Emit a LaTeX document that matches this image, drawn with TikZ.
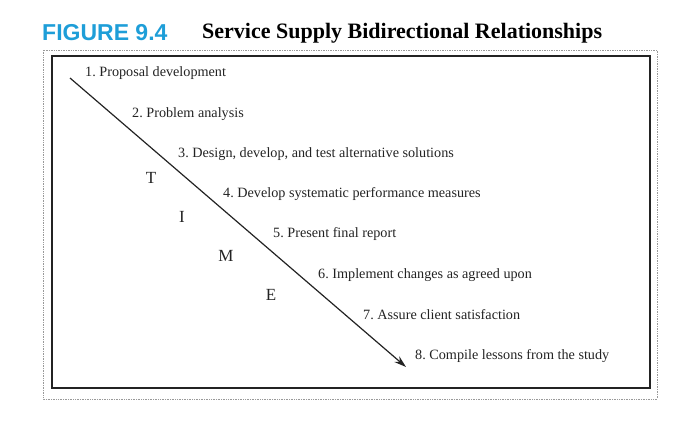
\documentclass[tikz,border=0pt]{standalone}
\usepackage{fontspec}
\setmainfont{Liberation Serif}
\newfontfamily\titlesans{Liberation Sans}
\usetikzlibrary{arrows.meta}
\frenchspacing
\definecolor{figcyan}{RGB}{30,158,216}
\definecolor{ink}{RGB}{35,35,35}
\tikzset{
  steplabel/.style={anchor=west, inner sep=0pt, text=ink, font=\fontsize{14.2}{16}\selectfont},
  timeletter/.style={inner sep=0pt, text=ink, font=\fontsize{17}{19}\selectfont},
  outerbox/.style={draw=gray!80, densely dotted, line width=0.7pt},
  innerbox/.style={draw=ink, line width=2pt},
  timearrow/.style={draw=ink, line width=1.2pt, -{Stealth[length=12pt,width=7.5pt]}}
}
\begin{document}
\begin{tikzpicture}[x=1pt,y=-1pt]
\useasboundingbox (0,0) rectangle (700,431);
% title
\node[anchor=west, inner sep=0pt, text=figcyan, font=\titlesans\bfseries\fontsize{23}{25}\selectfont] (fig) at (42,33) {FIGURE 9.4};
\node[anchor=west, inner sep=0pt, text=black, font=\bfseries\fontsize{22}{24}\selectfont] (title) at (202,33) {Service Supply Bidirectional Relationships};
% boxes
\draw[outerbox] (43,50) rectangle (657,399);
\draw[innerbox] (52,56) rectangle (650,388);
% arrow
\coordinate (start) at (70,78);
\coordinate (end) at (406,367);
\draw[timearrow] (start) -- (end);
% steps
\node[steplabel] (s1) at (85,73) {1. Proposal development};
\node[steplabel] (s2) at (132,114) {2. Problem analysis};
\node[steplabel] (s3) at (178,154) {3. Design, develop, and test alternative solutions};
\node[steplabel] (s4) at (223,194) {4. Develop systematic performance measures};
\node[steplabel] (s5) at (273,234) {5. Present final report};
\node[steplabel] (s6) at (318,275) {6. Implement changes as agreed upon};
\node[steplabel] (s7) at (363,315) {7. Assure client satisfaction};
\node[steplabel] (s8) at (415,356) {8. Compile lessons from the study};
% TIME
\node[timeletter] (lt) at (151,178) {T};
\node[timeletter] (li) at (182,217) {I};
\node[timeletter] (lm) at (226,256) {M};
\node[timeletter] (le) at (271,295) {E};
\end{tikzpicture}
\end{document}
